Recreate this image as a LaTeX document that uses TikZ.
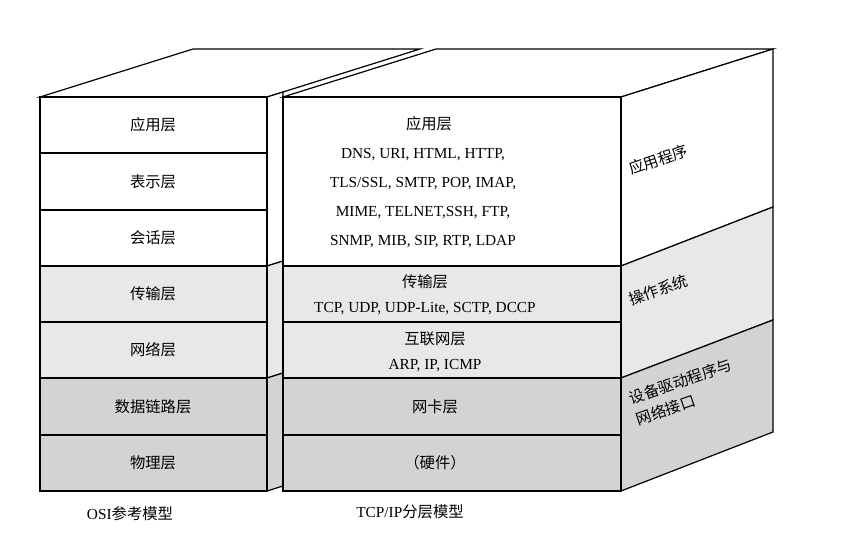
\documentclass[tikz,border=0pt]{standalone}
\usepackage{fontspec}
\setmainfont{Liberation Serif}
\newfontfamily\cjk{Noto Sans CJK SC}
\usetikzlibrary{positioning}
\definecolor{lgray}{HTML}{E8E8E8}
\definecolor{mgray}{HTML}{D3D3D3}

\tikzset{
  face/.style={draw, line width=0.9pt, line join=miter},
  lbl/.style={font=\fontsize{11.5}{18.5}\selectfont, align=center, inner sep=1pt},
  side/.style={lbl, rotate=19, anchor=west, align=left}
}

\begin{document}
\begin{tikzpicture}[x=0.75pt, y=-0.75pt]
\useasboundingbox (0,0) rectangle (865,536);

% OSI block
\draw[face, fill=white] (40,97) -- (193,49) -- (420,49) -- (267,97) -- cycle;
\filldraw[face, fill=white] (267,97) -- (283,92) -- (283,261) -- (267,266) -- cycle;
\filldraw[face, fill=lgray] (267,266) -- (283,261) -- (283,373) -- (267,378) -- cycle;
\filldraw[face, fill=mgray] (267,378) -- (283,373) -- (283,486) -- (267,491) -- cycle;
\filldraw[face, fill=white] (40,97) rectangle (267,266);
\filldraw[face, fill=lgray] (40,266) rectangle (267,378);
\filldraw[face, fill=mgray] (40,378) rectangle (267,491);
\foreach \y in {153,210,322,435} \draw[face] (40,\y) -- (267,\y);

\node[lbl] (o1) at (153,125) {\cjk 应用层};
\node[lbl] (o2) at (153,182) {\cjk 表示层};
\node[lbl] (o3) at (153,238) {\cjk 会话层};
\node[lbl] (o4) at (153,294) {\cjk 传输层};
\node[lbl] (o5) at (153,350) {\cjk 网络层};
\node[lbl] (o6) at (153,407) {\cjk 数据链路层};
\node[lbl] (o7) at (153,463) {\cjk 物理层};

% TCP/IP block
\draw[face, fill=white] (283,97) -- (436,49) -- (773,49) -- (621,97) -- cycle;
\filldraw[face, fill=white] (621,97) -- (773,49) -- (773,207) -- (621,266) -- cycle;
\filldraw[face, fill=lgray] (621,266) -- (773,207) -- (773,320) -- (621,378) -- cycle;
\filldraw[face, fill=mgray] (621,378) -- (773,320) -- (773,432) -- (621,491) -- cycle;
\filldraw[face, fill=white] (283,97) rectangle (621,266);
\filldraw[face, fill=lgray] (283,266) rectangle (621,378);
\filldraw[face, fill=mgray] (283,378) rectangle (621,491);
\foreach \y in {322,435} \draw[face] (283,\y) -- (621,\y);

\node[lbl] (t1) at (429,124) {\cjk 应用层};
\node[lbl, font=\fontsize{11.5}{21.75}\selectfont] (t1a) at (423,198) {DNS, URI, HTML, HTTP,\\ TLS/SSL, SMTP, POP, IMAP,\\ MIME, TELNET,SSH, FTP,\\ SNMP, MIB, SIP, RTP, LDAP};
\node[lbl] (t2) at (425,295) {{\cjk 传输层}\\ TCP, UDP, UDP-Lite, SCTP, DCCP};
\node[lbl] (t3) at (435,352) {{\cjk 互联网层}\\ ARP, IP, ICMP};
\node[lbl] (t4) at (435,407) {\cjk 网卡层};
\node[lbl] (t5) at (435,463) {\cjk （硬件）};

\node[side] (s1) at (628,170) {\cjk 应用程序};
\node[side] (s2) at (628,300) {\cjk 操作系统};
\node[side, font=\fontsize{11.5}{16}\selectfont] (s3) at (632,410) {\cjk 设备驱动程序与\\ \cjk 网络接口};

\node[lbl] (c1) at (130,514) {OSI{\cjk 参考模型}};
\node[lbl] (c2) at (410,512) {TCP/IP{\cjk 分层模型}};
\end{tikzpicture}
\end{document}
